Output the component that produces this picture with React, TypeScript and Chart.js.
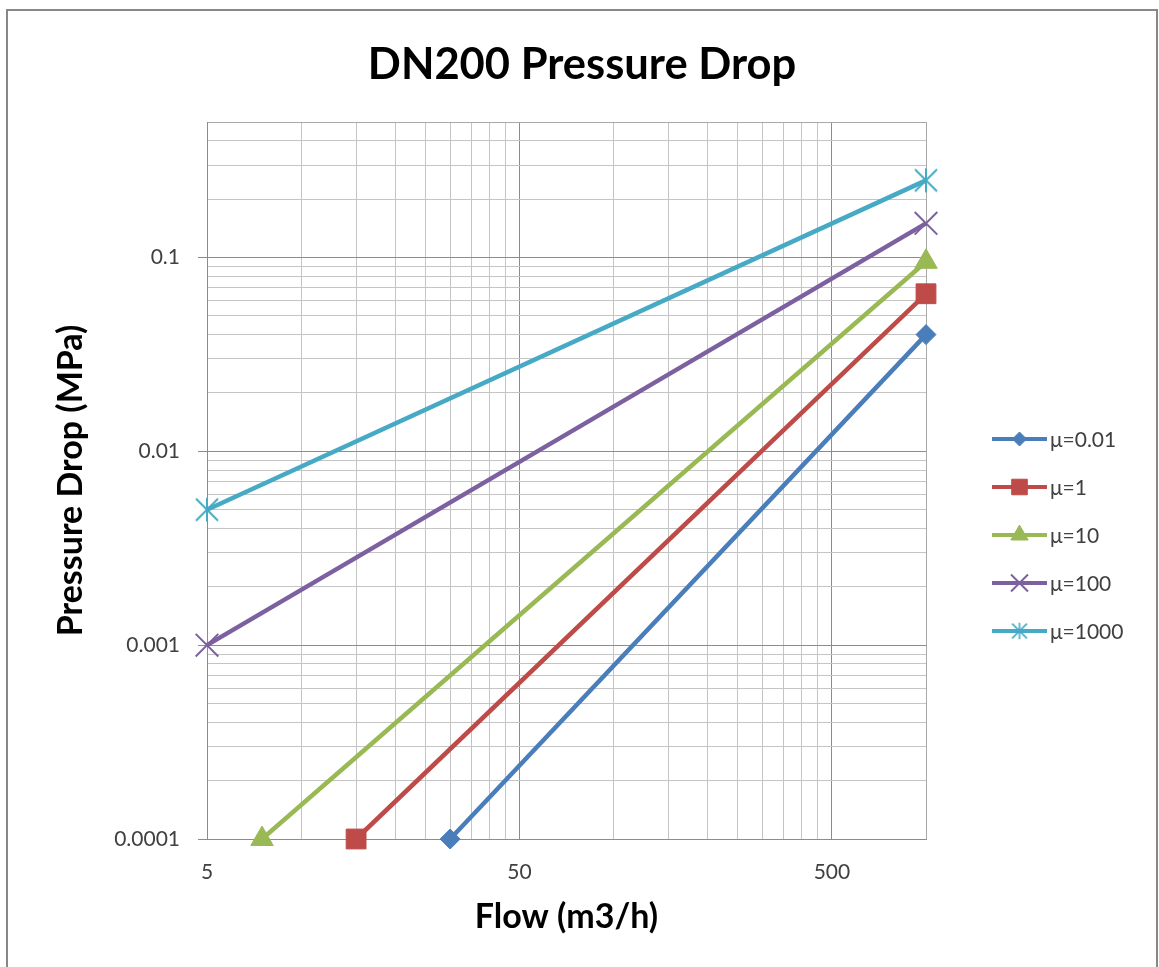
import React, { useEffect, useRef } from 'react';
import { Chart, registerables } from 'chart.js';
import { drawPoint } from 'chart.js/helpers';

Chart.register(...registerables);

// ---- data ----
const seriesLabels = ['μ=0.01', 'μ=1', 'μ=10', 'μ=100', 'μ=1000'];
const flowMu001 = [30, 1000];
const dropMu001 = [0.0001, 0.04];
const flowMu1 = [15, 1000];
const dropMu1 = [0.0001, 0.065];
const flowMu10 = [7.5, 1000];
const dropMu10 = [0.0001, 0.095];
const flowMu100 = [5, 1000];
const dropMu100 = [0.001, 0.15];
const flowMu1000 = [5, 1000];
const dropMu1000 = [0.005, 0.25];

const xTickValues = [5, 10, 15, 20, 25, 30, 35, 40, 45, 50, 100, 150, 200, 250, 300, 350, 400, 450, 500, 1000];
const xTickLabels = ['5', '50', '500'];
const yTickValues = [
  0.0001, 0.0002, 0.0003, 0.0004, 0.0005, 0.0006, 0.0007, 0.0008, 0.0009,
  0.001, 0.002, 0.003, 0.004, 0.005, 0.006, 0.007, 0.008, 0.009,
  0.01, 0.02, 0.03, 0.04, 0.05, 0.06, 0.07, 0.08, 0.09,
  0.1, 0.2, 0.3, 0.4, 0.5,
];
const yTickLabels = ['0.0001', '0.001', '0.01', '0.1'];

const chartTitle = 'DN200 Pressure Drop';
const xTitle = 'Flow (m3/h)';
const yTitle = 'Pressure Drop (MPa)';

// ---- styles ----
const colors = ['#4A7EBB', '#BE4B48', '#98B954', '#7D60A0', '#46AAC5'];
const FONT = 'Lato, "Open Sans", "DejaVu Sans", sans-serif';
const MAJOR_GRID = '#8c8c8c';
const MINOR_GRID = '#c4c4c4';
const EDGE_GRID = '#a8a8a8';
const TEXT_GRAY = '#404040';

const near = (a: number, b: number) => Math.abs(a - b) / Math.abs(b) < 1e-6;
const findLabel = (v: number, labels: string[]) => {
  const l = labels.find((s) => near(v, Number(s)));
  return l === undefined ? '' : l;
};
const isMajor = (v: number, labels: string[]) => labels.some((s) => near(v, Number(s)));

function makeStar(size: number, color: string, lw: number) {
  const c = document.createElement('canvas');
  c.width = size;
  c.height = size;
  const g = c.getContext('2d')!;
  const m = lw;
  g.strokeStyle = color;
  g.lineWidth = lw;
  g.beginPath();
  g.moveTo(m, m);
  g.lineTo(size - m, size - m);
  g.moveTo(size - m, m);
  g.lineTo(m, size - m);
  g.moveTo(size / 2, m * 0.5);
  g.lineTo(size / 2, size - m * 0.5);
  g.stroke();
  return c;
}

export default function App() {
  const ref = useRef<HTMLCanvasElement | null>(null);

  useEffect(() => {
    document.body.style.overflow = 'hidden';
    const canvas = ref.current;
    if (!canvas) return;

    const starBig = makeStar(26, colors[4], 2);
    const starSmall = makeStar(18, colors[4], 1.6);

    const flows = [flowMu001, flowMu1, flowMu10, flowMu100, flowMu1000];
    const drops = [dropMu001, dropMu1, dropMu10, dropMu100, dropMu1000];
    const pointStyles: any[] = ['rectRot', 'rect', 'triangle', 'crossRot', starBig];
    const pointRadii = [10, 14, 13, 16, 13];
    const pointBorders = [1, 1, 1, 2, 2];
    const legendStyles: any[] = ['rectRot', 'rect', 'triangle', 'crossRot', starSmall];
    const legendRadii = [7, 11, 10, 12, 9];

    const datasets = seriesLabels.map((label, i) => ({
      label,
      data: flows[i].map((x, j) => ({ x, y: drops[i][j] })),
      showLine: true,
      borderColor: colors[i],
      backgroundColor: colors[i],
      borderWidth: 4.5,
      pointStyle: pointStyles[i],
      pointRadius: pointRadii[i],
      pointBorderWidth: pointBorders[i],
      pointBackgroundColor: colors[i],
      pointBorderColor: colors[i],
      clip: false as any,
      yAxisID: 'y',
      xAxisID: 'x',
    }));

    const legendPlugin = {
      id: 'sideLegend',
      afterDraw(chart: any) {
        const ctx = chart.ctx as CanvasRenderingContext2D;
        const area = chart.chartArea;
        const x0 = area.right + 66;
        const y0 = area.top + 317;
        const step = 48;
        const lineLen = 55;
        chart.data.datasets.forEach((ds: any, i: number) => {
          const y = y0 + i * step;
          ctx.save();
          ctx.strokeStyle = ds.borderColor;
          ctx.lineWidth = 4;
          ctx.beginPath();
          ctx.moveTo(x0, y);
          ctx.lineTo(x0 + lineLen, y);
          ctx.stroke();
          ctx.fillStyle = ds.borderColor;
          ctx.strokeStyle = ds.borderColor;
          ctx.lineWidth = ds.pointBorderWidth;
          drawPoint(ctx, { pointStyle: legendStyles[i], radius: legendRadii[i], borderWidth: ds.pointBorderWidth, rotation: 0 } as any, x0 + lineLen / 2, y);
          ctx.fillStyle = TEXT_GRAY;
          ctx.font = `21px ${FONT}`;
          ctx.textBaseline = 'middle';
          ctx.textAlign = 'left';
          ctx.fillText(ds.label, x0 + lineLen + 3, y + 1);
          ctx.restore();
        });
      },
    };

    const chart = new Chart(canvas, {
      type: 'scatter',
      data: { datasets },
      plugins: [legendPlugin],
      options: {
        responsive: false,
        animation: false,
        layout: { padding: 0 },
        plugins: {
          legend: { display: false },
          tooltip: { enabled: false },
          title: {
            display: true,
            text: chartTitle,
            color: '#000000',
            font: { family: FONT, size: 43.5, weight: 'bold', lineHeight: 1.2 },
            padding: { top: 27.5, bottom: 31.3 },
          },
        },
        scales: {
          x: {
            type: 'logarithmic',
            position: 'bottom',
            min: 5,
            max: 1000,
            afterBuildTicks: (scale: any) => {
              scale.ticks = xTickValues.map((v) => ({ value: v }));
            },
            afterFit: (scale: any) => {
              scale.height = 128;
            },
            ticks: {
              autoSkip: false,
              maxRotation: 0,
              padding: 11.4,
              color: TEXT_GRAY,
              font: { family: FONT, size: 21 },
              callback: (v: any) => findLabel(Number(v), xTickLabels),
            },
            grid: {
              color: (c: any) => (c.tick && isMajor(c.tick.value, xTickLabels) ? MAJOR_GRID : c.tick && c.tick.value === 1000 ? EDGE_GRID : MINOR_GRID),
              tickColor: 'rgba(0,0,0,0)',
              tickLength: 9,
              lineWidth: 1,
            },
            border: { color: MAJOR_GRID, width: 1 },
            title: {
              display: true,
              text: xTitle,
              color: '#000000',
              font: { family: FONT, size: 34, weight: 'bold', lineHeight: 1.2 },
              padding: { top: 0, bottom: 29.9 },
            },
          },
          y: {
            type: 'logarithmic',
            position: 'left',
            min: 0.0001,
            max: 0.5,
            afterBuildTicks: (scale: any) => {
              scale.ticks = yTickValues.map((v) => ({ value: v }));
            },
            afterFit: (scale: any) => {
              scale.width = 199;
            },
            ticks: {
              autoSkip: false,
              padding: 18,
              color: TEXT_GRAY,
              font: { family: FONT, size: 21 },
              callback: (v: any) => findLabel(Number(v), yTickLabels),
            },
            grid: {
              color: (c: any) => (c.tick && isMajor(c.tick.value, yTickLabels) ? MAJOR_GRID : c.tick && near(c.tick.value, 0.5) ? EDGE_GRID : MINOR_GRID),
              tickColor: (c: any) => (c.tick && isMajor(c.tick.value, yTickLabels) ? MAJOR_GRID : 'rgba(0,0,0,0)'),
              tickLength: 9,
              lineWidth: 1,
            },
            border: { color: MAJOR_GRID, width: 1 },
            title: {
              display: true,
              text: yTitle,
              color: '#000000',
              font: { family: FONT, size: 34, weight: 'bold', lineHeight: 1.2 },
              padding: { top: 42.3, bottom: 0 },
            },
          },
          legendSpace: {
            type: 'linear',
            position: 'right',
            display: true,
            grid: { display: false, drawTicks: false },
            border: { display: false },
            ticks: { display: false },
            title: { display: false },
            afterFit: (scale: any) => {
              scale.width = 230;
            },
          },
        },
      } as any,
    });

    return () => {
      chart.destroy();
    };
  }, []);

  return (
    <div
      style={{
        position: 'absolute',
        left: 6,
        top: 9,
        width: 1148,
        height: 956,
        borderTop: '2px solid #878787',
        borderLeft: '2px solid #878787',
        borderRight: '2px solid #878787',
        background: '#ffffff',
      }}
    >
      <canvas ref={ref} width={1148} height={956} style={{ display: 'block', width: 1148, height: 956 }} />
    </div>
  );
}
